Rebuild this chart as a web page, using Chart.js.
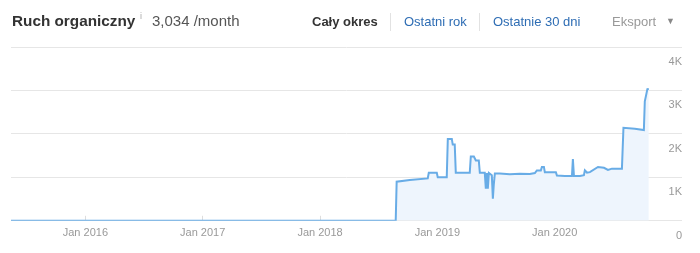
<!DOCTYPE html>
<html>
<head>
<meta charset="utf-8">
<script src="https://cdn.jsdelivr.net/npm/chart.js@4/dist/chart.umd.min.js"></script>
<style>
  html, body { margin:0; padding:0; background:#fff; }
  #wrap { position:relative; width:700px; height:253px; overflow:hidden; font-family:"Liberation Sans", Arial, sans-serif; }
  canvas { position:absolute; left:0; top:0; }
  .t { position:absolute; white-space:nowrap; line-height:1; }
  .sep { position:absolute; top:13px; width:1px; height:18px; background:#e2e2e2; }
</style>
</head>
<body>
<div id="wrap">
  <canvas id="c" width="700" height="253"></canvas>
  <div class="t" style="left:12px; top:13px; font-size:15.3px; font-weight:bold; color:#333;">Ruch organiczny</div>
  <div class="t" style="left:140px; top:12px; font-size:9px; color:#aaa;">i</div>
  <div class="t" style="left:152px; top:13px; font-size:15px; color:#555;">3,034 /month</div>
  <div class="t" style="left:312px; top:15px; font-size:13px; font-weight:bold; color:#333;">Cały okres</div>
  <div class="sep" style="left:390px;"></div>
  <div class="t" style="left:404px; top:15px; font-size:13px; color:#2e6db4;">Ostatni rok</div>
  <div class="sep" style="left:479px;"></div>
  <div class="t" style="left:493px; top:15px; font-size:13px; color:#2e6db4;">Ostatnie 30 dni</div>
  <div class="t" style="left:612px; top:15px; font-size:13px; color:#999;">Eksport</div>
  <div class="t" style="left:666px; top:17px; font-size:9px; color:#888;">&#9660;</div>
</div>
<script>
// decimal-year positions and organic traffic values
const dates = [2015.366, 2018.645, 2018.653, 2018.765, 2018.918, 2018.927, 2018.995, 2019.003, 2019.080, 2019.089,
  2019.123, 2019.131, 2019.148, 2019.157, 2019.276, 2019.285, 2019.311, 2019.328, 2019.353, 2019.362,
  2019.404, 2019.413, 2019.422, 2019.430, 2019.439, 2019.464, 2019.473, 2019.481, 2019.490, 2019.532,
  2019.618, 2019.703, 2019.788, 2019.831, 2019.848, 2019.882, 2019.891, 2019.908, 2019.916, 2020.010,
  2020.019, 2020.087, 2020.147, 2020.155, 2020.164, 2020.215, 2020.249, 2020.257, 2020.275, 2020.300,
  2020.369, 2020.420, 2020.454, 2020.488, 2020.573, 2020.586, 2020.683, 2020.760, 2020.768, 2020.790,
  2020.802];
const traffic = [0, 0, 900, 940, 975, 1105, 1105, 1005, 1005, 1885,
  1885, 1755, 1755, 1105, 1105, 1480, 1480, 1390, 1390, 1105,
  1105, 740, 1100, 740, 1100, 1050, 510, 840, 1090, 1090,
  1070, 1080, 1075, 1100, 1160, 1160, 1240, 1240, 1120, 1120,
  1040, 1030, 1030, 1420, 1030, 1030, 1050, 1160, 1110, 1120,
  1240, 1220, 1170, 1200, 1200, 2140, 2120, 2090, 2750, 3030,
  3034];
const yearTicks = [2016, 2017, 2018, 2019, 2020];
const yTicks = [0, 1000, 2000, 3000, 4000];

const points = dates.map((d, i) => ({ x: d, y: traffic[i] }));

new Chart(document.getElementById('c'), {
  type: 'line',
  data: {
    datasets: [{
      data: points,
      borderColor: '#68ace6',
      backgroundColor: '#eef5fd',
      borderWidth: 2,
      fill: 'origin',
      pointRadius: 0,
      tension: 0
    }]
  },
  options: {
    responsive: false,
    animation: false,
    plugins: { legend: { display: false }, tooltip: { enabled: false } },
    layout: { padding: { left: 11, right: 18, top: 47, bottom: 2 } },
    scales: {
      x: {
        type: 'linear',
        min: 2015.366,
        max: 2021.085,
        afterBuildTicks: (axis) => { axis.ticks = yearTicks.map(v => ({ value: v })); },
        ticks: {
          callback: (v) => 'Jan ' + v,
          color: '#999',
          font: { family: 'Liberation Sans', size: 11 },
          padding: 11,
          maxRotation: 0,
          autoSkip: false
        },
        grid: { drawOnChartArea: false, drawTicks: true, tickLength: -5, color: '#ddd' },
        border: { display: false }
      },
      y: {
        position: 'right',
        min: 0,
        max: 4000,
        afterBuildTicks: (axis) => { axis.ticks = yTicks.map(v => ({ value: v })); },
        ticks: {
          mirror: true,
          padding: 0,
          labelOffset: 15,
          color: '#999',
          font: { family: 'Liberation Sans', size: 11 },
          callback: (v) => v === 0 ? '0' : (v / 1000) + 'K'
        },
        grid: { color: '#e6e6e6', drawTicks: false },
        border: { display: false }
      }
    }
  }
});
</script>
</body>
</html>
